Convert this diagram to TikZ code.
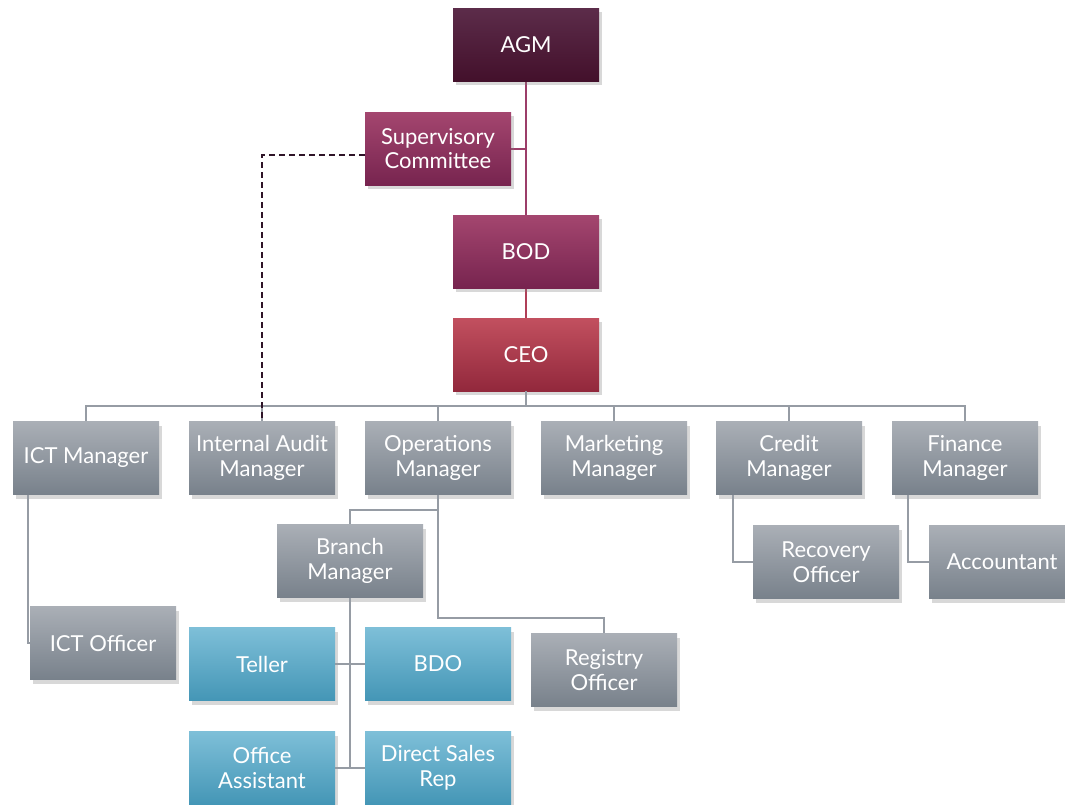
\documentclass[tikz,border=0pt]{standalone}
\usepackage{fontspec}
\setmainfont{Lato}
\usetikzlibrary{shadows}

\definecolor{agmtop}{HTML}{5C2C4A}
\definecolor{agmbot}{HTML}{43102B}
\definecolor{bodtop}{HTML}{A4466F}
\definecolor{bodbot}{HTML}{77244F}
\definecolor{ceotop}{HTML}{C2505F}
\definecolor{ceobot}{HTML}{92283C}
\definecolor{greytop}{HTML}{AAAFB6}
\definecolor{greybot}{HTML}{78818B}
\definecolor{bluetop}{HTML}{7EBFD8}
\definecolor{bluebot}{HTML}{4496B6}
\definecolor{linegrey}{HTML}{969CA4}
\definecolor{lineplum}{HTML}{9C3E69}
\definecolor{linered}{HTML}{B03F58}
\definecolor{dashdark}{HTML}{2E1428}

\begin{document}
\begin{tikzpicture}[x=1pt,y=-1pt,
  box/.style={rectangle, minimum width=146pt, minimum height=73pt,
    align=center, text=white, font=\fontsize{22}{24.5}\selectfont,
    drop shadow={shadow xshift=3pt, shadow yshift=-4pt, opacity=0.3}},
  agmbox/.style={box, top color=agmtop, bottom color=agmbot},
  bodbox/.style={box, top color=bodtop, bottom color=bodbot},
  ceobox/.style={box, top color=ceotop, bottom color=ceobot},
  greybox/.style={box, top color=greytop, bottom color=greybot},
  bluebox/.style={box, top color=bluetop, bottom color=bluebot},
  link/.style={draw=linegrey, line width=2pt}]
  \useasboundingbox[fill=white] (0,0) rectangle (1065,804);

  % lines of the top part first
  \coordinate (agmfoot) at (526,81);
  \draw[draw=lineplum, line width=2pt] (agmfoot) -- (526,215);
  \draw[draw=lineplum, line width=2pt] (511,148.5) -- (526,148.5);
  \draw[draw=linered, line width=2pt] (526,288) -- (526,318);

  \node[agmbox] (agm) at (526,44.5){AGM};
  \node[bodbox] (sup) at (438,148.5){Supervisory\\Committee};
  \node[bodbox] (bod) at (526,251.5){BOD};
  \node[ceobox] (ceo) at (526,354.5){CEO};

  \node[greybox] (ictm) at (86,458){ICT Manager};
  \node[greybox] (iam) at (262,458){Internal Audit\\Manager};
  \node[greybox] (opm) at (438,458){Operations\\Manager};
  \node[greybox] (mkm) at (614,458){Marketing\\Manager};
  \node[greybox] (crm) at (789,458){Credit\\Manager};
  \node[greybox] (fim) at (965,458){Finance\\Manager};

  \node[greybox] (icto) at (103,643){ICT Officer};
  \node[greybox] (brm) at (350,561){Branch\\Manager};
  \node[greybox] (rego) at (604,670){Registry\\Officer};
  \node[greybox] (reco) at (826,562){Recovery\\Officer};
  \node[greybox] (acc) at (1002,562){Accountant};

  \node[bluebox] (tel) at (262,664){Teller};
  \node[bluebox] (bdo) at (438,664){BDO};
  \node[bluebox] (ofa) at (262,768){Office\\Assistant};
  \node[bluebox] (dsr) at (438,768){Direct Sales\\Rep};

  \coordinate (bus) at (526,406);
  \draw[link] (ceo.south) -- (bus);
  \draw[link] (ictm.north) |- (bus) -| (fim.north);
  \draw[link] (iam.north) -- (iam.north |- bus);
  \draw[link] (opm.north) -- (opm.north |- bus);
  \draw[link] (mkm.north) -- (mkm.north |- bus);
  \draw[link] (crm.north) -- (crm.north |- bus);

  \draw[link] ([xshift=15pt]ictm.south west) |- (icto.west);
  \draw[link] (opm.south) -- (438,510) -| (brm.north);
  \draw[link] (438,510) -- (438,618) -| (rego.north);
  \draw[link] ([xshift=17pt]crm.south west) |- (reco.west);
  \draw[link] ([xshift=16pt]fim.south west) |- (acc.west);

  \draw[link] (brm.south) -- (350,768);
  \draw[link] (tel.east) -- (bdo.west);
  \draw[link] (ofa.east) -- (dsr.west);

  \draw[draw=dashdark, line width=1.6pt, dash pattern=on 6pt off 4pt]
    ([yshift=-6.5pt]sup.west) -| (iam.north);
\end{tikzpicture}
\end{document}
